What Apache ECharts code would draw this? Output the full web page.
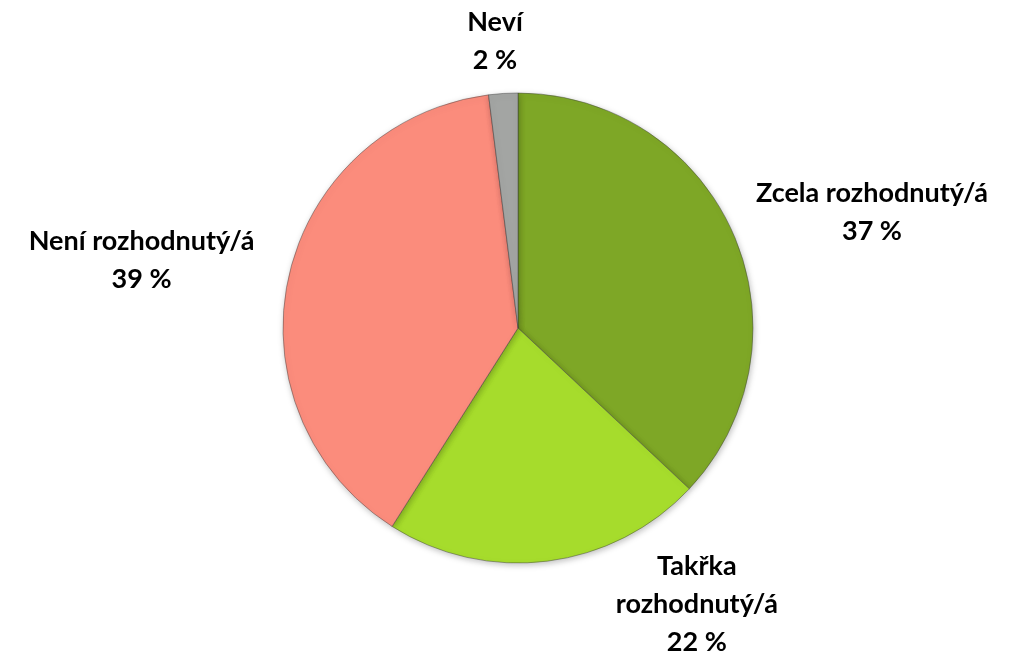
<!DOCTYPE html>
<html style="height: 100%">
   <head>
       <meta charset="utf-8">
   </head>
   <body style="height: 100%; margin: 0; background: #fff">
       <div id="container" style="height: 100%"></div>
       <script type="text/javascript" src="https://cdn.jsdelivr.net/npm/echarts@6/dist/echarts.min.js"></script>
       <script type="text/javascript">
// data
var categories = ['Zcela rozhodnutý/á', 'Takřka\nrozhodnutý/á', 'Není rozhodnutý/á', 'Neví'];
var values = [37, 22, 39, 2];
var colors = ['#7ea726', '#a6dc2c', '#fb8c7c', '#a3a5a3'];
// label line lengths (hidden lines, only used to place the labels)
var lineLen = [57, 43, 77, 52];
var lineLen2 = [81, 139, 67, 0];

var dom = document.getElementById("container");
var myChart = echarts.init(dom);
var option = null;

var seriesData = categories.map(function (name, i) {
    return {
        name: name,
        value: values[i],
        itemStyle: {color: colors[i]},
        labelLine: {show: false, length: lineLen[i], length2: lineLen2[i]}
    };
});

option = {
    animation: false,
    series: [
        {
            type: 'pie',
            center: [518, 328],
            radius: [0, 235],
            startAngle: 90,
            clockwise: true,
            avoidLabelOverlap: false,
            data: seriesData,
            itemStyle: {
                borderColor: 'rgba(60,60,60,0.45)',
                borderWidth: 1,
                shadowColor: 'rgba(0,0,0,0.25)',
                shadowBlur: 6,
                shadowOffsetX: 1,
                shadowOffsetY: 2
            },
            label: {
                show: true,
                position: 'outside',
                formatter: '{b}\n{c} %',
                fontFamily: 'Lato',
                fontWeight: 'bold',
                fontSize: 27,
                lineHeight: 38,
                color: '#000'
            },
            labelLayout: function () {
                return {align: 'center', verticalAlign: 'middle'};
            }
        }
    ]
};

if (option && typeof option === "object") {
    myChart.setOption(option, true);
}
       </script>
   </body>
</html>
